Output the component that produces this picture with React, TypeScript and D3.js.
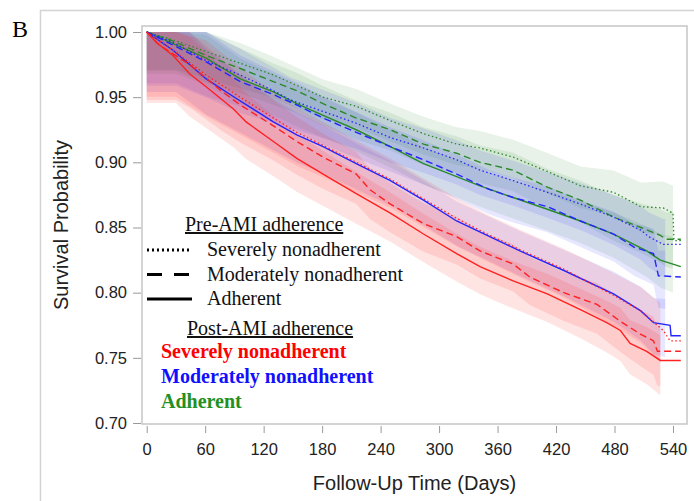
import React, { useEffect, useRef } from "react";
import * as d3 from "d3";

const W = 694;
const H = 501;

const xTicks = [0, 60, 120, 180, 240, 300, 360, 420, 480, 540];
const yTicks = [0.7, 0.75, 0.8, 0.85, 0.9, 0.95, 1.0];

const groupLabels = ["Severely nonadherent", "Moderately nonadherent", "Adherent"];
const postColors = ["#ff2020", "#2424ff", "#2a8a2a"];
const legendColors = ["#ff0000", "#1010ff", "#239023"];
const preDash = ["1.5,2.5", "7,4", null];

// survival curves [day, probability], named post-AMI / pre-AMI adherence
const severeSevere: [number, number][] = [
  [0, 1], [27, 0.986], [61, 0.967], [96, 0.95], [130, 0.934], [154, 0.923], [181, 0.913],
  [215, 0.9], [250, 0.887], [284, 0.872], [318, 0.857], [352, 0.844], [383, 0.833],
  [428, 0.818], [479, 0.798], [507, 0.786], [530, 0.771], [537, 0.763], [548, 0.763],
];
const severeModerate: [number, number][] = [
  [0, 1], [13, 0.99], [44, 0.975], [78, 0.954], [96, 0.944], [130, 0.928], [154, 0.916],
  [181, 0.904], [215, 0.891], [229, 0.879], [250, 0.868], [284, 0.853], [318, 0.843],
  [342, 0.832], [376, 0.822], [393, 0.812], [428, 0.8], [462, 0.791], [486, 0.778],
  [507, 0.768], [520, 0.763], [524, 0.755], [548, 0.755],
];
const severeAdherent: [number, number][] = [
  [0, 1], [10, 0.992], [27, 0.982], [44, 0.968], [61, 0.958], [89, 0.941], [102, 0.931],
  [130, 0.916], [154, 0.903], [181, 0.891], [215, 0.876], [250, 0.861], [284, 0.845],
  [318, 0.83], [342, 0.82], [376, 0.809], [411, 0.799], [445, 0.787], [472, 0.777],
  [486, 0.771], [496, 0.761], [513, 0.755], [527, 0.748], [548, 0.748],
];
const moderateSevere: [number, number][] = [
  [0, 1], [27, 0.992], [61, 0.978], [96, 0.967], [130, 0.955], [147, 0.948], [181, 0.939],
  [215, 0.93], [250, 0.919], [284, 0.911], [318, 0.902], [342, 0.894], [376, 0.886],
  [411, 0.877], [445, 0.868], [479, 0.858], [507, 0.848], [515, 0.843], [530, 0.837],
  [548, 0.837],
];
const moderateModerate: [number, number][] = [
  [0, 1], [27, 0.99], [61, 0.977], [96, 0.962], [130, 0.952], [154, 0.944], [181, 0.934],
  [215, 0.923], [250, 0.912], [284, 0.902], [318, 0.891], [352, 0.879], [376, 0.873],
  [411, 0.866], [445, 0.855], [479, 0.845], [500, 0.835], [520, 0.83], [525, 0.813],
  [548, 0.812],
];
const moderateAdherent: [number, number][] = [
  [0, 1], [27, 0.986], [44, 0.975], [61, 0.964], [92, 0.949], [130, 0.931], [154, 0.921],
  [181, 0.912], [215, 0.899], [250, 0.886], [284, 0.871], [318, 0.855], [352, 0.843],
  [383, 0.832], [428, 0.817], [479, 0.799], [507, 0.786], [520, 0.777], [537, 0.775],
  [538, 0.767], [548, 0.767],
];
const adherentSevere: [number, number][] = [
  [0, 1], [27, 0.994], [61, 0.985], [96, 0.976], [130, 0.967], [154, 0.959], [181, 0.95],
  [215, 0.943], [250, 0.932], [284, 0.922], [318, 0.914], [342, 0.911], [376, 0.904],
  [411, 0.893], [445, 0.882], [479, 0.877], [507, 0.866], [530, 0.865], [540, 0.861],
  [541, 0.84], [548, 0.84],
];
const adherentModerate: [number, number][] = [
  [0, 1], [27, 0.993], [61, 0.982], [96, 0.972], [130, 0.962], [154, 0.955], [181, 0.945],
  [215, 0.934], [250, 0.925], [284, 0.914], [318, 0.907], [342, 0.9], [376, 0.894],
  [411, 0.881], [445, 0.871], [479, 0.858], [507, 0.85], [527, 0.844], [533, 0.841],
  [548, 0.841],
];
const adherentAdherent: [number, number][] = [
  [0, 1], [27, 0.991], [61, 0.98], [96, 0.964], [130, 0.954], [154, 0.945], [181, 0.936],
  [215, 0.925], [250, 0.912], [284, 0.899], [318, 0.889], [342, 0.882], [376, 0.873],
  [411, 0.864], [445, 0.855], [479, 0.845], [513, 0.832], [527, 0.825], [548, 0.82],
];

// confidence band distances below / above each curve, by post-AMI group
const bandDays = [0, 30, 120, 240, 360, 450, 500, 540];
const bandBelow = [
  [0.034, 0.034, 0.027, 0.022, 0.021, 0.022, 0.024, 0.028],
  [0.03, 0.03, 0.022, 0.019, 0.019, 0.02, 0.022, 0.026],
  [0.022, 0.022, 0.018, 0.016, 0.016, 0.017, 0.019, 0.022],
];
const bandAbove = [
  [0.03, 0.03, 0.02, 0.016, 0.015, 0.016, 0.018, 0.02],
  [0.026, 0.026, 0.018, 0.015, 0.015, 0.016, 0.018, 0.02],
  [0.02, 0.02, 0.014, 0.013, 0.013, 0.015, 0.018, 0.021],
];
const bandEnd = [527, 532, 540];

// [post, pre, curve]
const series: [number, number, [number, number][]][] = [
  [2, 0, adherentSevere], [2, 1, adherentModerate], [2, 2, adherentAdherent],
  [1, 0, moderateSevere], [1, 1, moderateModerate], [1, 2, moderateAdherent],
  [0, 0, severeSevere], [0, 1, severeModerate], [0, 2, severeAdherent],
];

const valueAt = (pts: [number, number][], t: number) => {
  if (t <= pts[0][0]) return pts[0][1];
  for (let i = 1; i < pts.length; i++) {
    const [d0, v0] = pts[i - 1];
    const [d1, v1] = pts[i];
    if (t <= d1) return d1 === d0 ? v1 : v0 + ((v1 - v0) * (t - d0)) / (d1 - d0);
  }
  return pts[pts.length - 1][1];
};

const App = () => {
  const ref = useRef<SVGSVGElement>(null);

  useEffect(() => {
    const svg = d3.select(ref.current);
    svg.selectAll("*").remove();

    const frame = { left: 142, top: 26, right: 687, bottom: 424 };
    const x = d3.scaleLinear().domain([0, 540]).range([146.7, 673]);
    const y = d3.scaleLinear().domain([0.7, 1.0]).range([423, 32]);
    const sans = "'Liberation Sans', Arial, sans-serif";
    const serif = "'Liberation Serif', 'Times New Roman', serif";

    // outer panel border
    svg
      .append("rect")
      .attr("x", 40.5)
      .attr("y", 10.5)
      .attr("width", 700)
      .attr("height", 600)
      .attr("fill", "none")
      .attr("stroke", "#d4d4d4")
      .attr("stroke-width", 1.5);

    svg
      .append("text")
      .attr("x", 12)
      .attr("y", 37)
      .attr("font-family", serif)
      .attr("font-size", 24)
      .text("B");

    svg
      .append("rect")
      .attr("x", frame.left)
      .attr("y", frame.top)
      .attr("width", frame.right - frame.left)
      .attr("height", frame.bottom - frame.top)
      .attr("fill", "#fff")
      .attr("stroke", "#c6c6c6")
      .attr("stroke-width", 1.5);

    svg
      .append("clipPath")
      .attr("id", "plot-clip")
      .append("rect")
      .attr("x", frame.left + 1)
      .attr("y", frame.top + 1)
      .attr("width", frame.right - frame.left - 2)
      .attr("height", frame.bottom - frame.top - 2);

    // confidence bands
    const bands = svg.append("g").attr("clip-path", "url(#plot-clip)");
    series.forEach(([post, , pts]) => {
      const below = d3.scaleLinear().domain(bandDays).range(bandBelow[post]).clamp(true);
      const above = d3.scaleLinear().domain(bandDays).range(bandAbove[post]).clamp(true);
      const end = bandEnd[post];
      const days = Array.from(
        new Set([0, 30, ...pts.map((p) => p[0]).filter((d) => d < end), end])
      ).sort((a, b) => a - b);
      const rows = days.map((t) => ({
        t,
        lo: valueAt(pts, Math.max(t, 30)) - below(t),
        hi: Math.min(1, valueAt(pts, t) + above(t)),
      }));
      bands
        .append("path")
        .datum(rows)
        .attr("fill", postColors[post])
        .attr("fill-opacity", post === 0 ? 0.12 : 0.11)
        .attr(
          "d",
          d3
            .area<{ t: number; lo: number; hi: number }>()
            .x((d) => x(d.t))
            .y0((d) => y(d.lo))
            .y1((d) => y(d.hi))
        );
    });

    // survival lines
    const lines = svg.append("g").attr("clip-path", "url(#plot-clip)");
    series.forEach(([post, pre, pts]) => {
      lines
        .append("path")
        .datum(pts)
        .attr("fill", "none")
        .attr("stroke", postColors[post])
        .attr("stroke-width", pre === 0 ? 1.3 : 1.4)
        .attr("stroke-dasharray", preDash[pre])
        .attr(
          "d",
          d3
            .line<[number, number]>()
            .x((d) => x(d[0]))
            .y((d) => y(d[1]))
        );
    });

    // y axis
    const yAxis = svg
      .append("g")
      .attr("transform", `translate(${frame.left - 1},0)`)
      .call(
        d3
          .axisLeft(y)
          .tickValues(yTicks)
          .tickSize(8)
          .tickPadding(6)
          .tickFormat(d3.format(".2f"))
      );
    yAxis.select(".domain").remove();
    yAxis.selectAll("line").attr("stroke", "#9a9a9a");
    yAxis
      .selectAll("text")
      .attr("font-family", sans)
      .attr("font-size", 16.5)
      .attr("fill", "#222");

    // x axis
    const xAxis = svg
      .append("g")
      .attr("transform", `translate(0,${frame.bottom + 2})`)
      .call(d3.axisBottom(x).tickValues(xTicks).tickSize(7).tickPadding(10));
    xAxis.select(".domain").remove();
    xAxis.selectAll("line").attr("stroke", "#9a9a9a");
    xAxis
      .selectAll("text")
      .attr("font-family", sans)
      .attr("font-size", 16.5)
      .attr("fill", "#222");

    svg
      .append("text")
      .attr("transform", `translate(68,${(frame.top + frame.bottom) / 2}) rotate(-90)`)
      .attr("text-anchor", "middle")
      .attr("font-family", sans)
      .attr("font-size", 20)
      .attr("fill", "#222")
      .text("Survival Probability");

    svg
      .append("text")
      .attr("x", (frame.left + frame.right) / 2)
      .attr("y", 490)
      .attr("text-anchor", "middle")
      .attr("font-family", sans)
      .attr("font-size", 20)
      .attr("fill", "#222")
      .text("Follow-Up Time (Days)");

    // legend
    const legend = svg.append("g").attr("font-family", serif).attr("font-size", 20);
    legend
      .append("text")
      .attr("x", 185)
      .attr("y", 231)
      .attr("text-decoration", "underline")
      .attr("fill", "#111")
      .text("Pre-AMI adherence");
    groupLabels.forEach((label, i) => {
      const ly = 250 + i * 24.5;
      legend
        .append("line")
        .attr("x1", 147)
        .attr("x2", 192)
        .attr("y1", ly)
        .attr("y2", ly)
        .attr("stroke", "#000")
        .attr("stroke-width", 3)
        .attr("stroke-dasharray", i === 0 ? "2,3" : i === 1 ? "15,12" : null);
      legend
        .append("text")
        .attr("x", 207)
        .attr("y", ly + 6)
        .attr("fill", "#111")
        .text(label);
    });
    legend
      .append("text")
      .attr("x", 187)
      .attr("y", 335)
      .attr("text-decoration", "underline")
      .attr("fill", "#111")
      .text("Post-AMI adherence");
    groupLabels.forEach((label, i) => {
      legend
        .append("text")
        .attr("x", 161)
        .attr("y", 358 + i * 25)
        .attr("font-weight", "bold")
        .attr("fill", legendColors[i])
        .text(label);
    });
  }, []);

  return (
    <svg
      ref={ref}
      width={W}
      height={H}
      style={{ position: "absolute", left: 0, top: 0, background: "#fff" }}
    />
  );
};

export default App;
